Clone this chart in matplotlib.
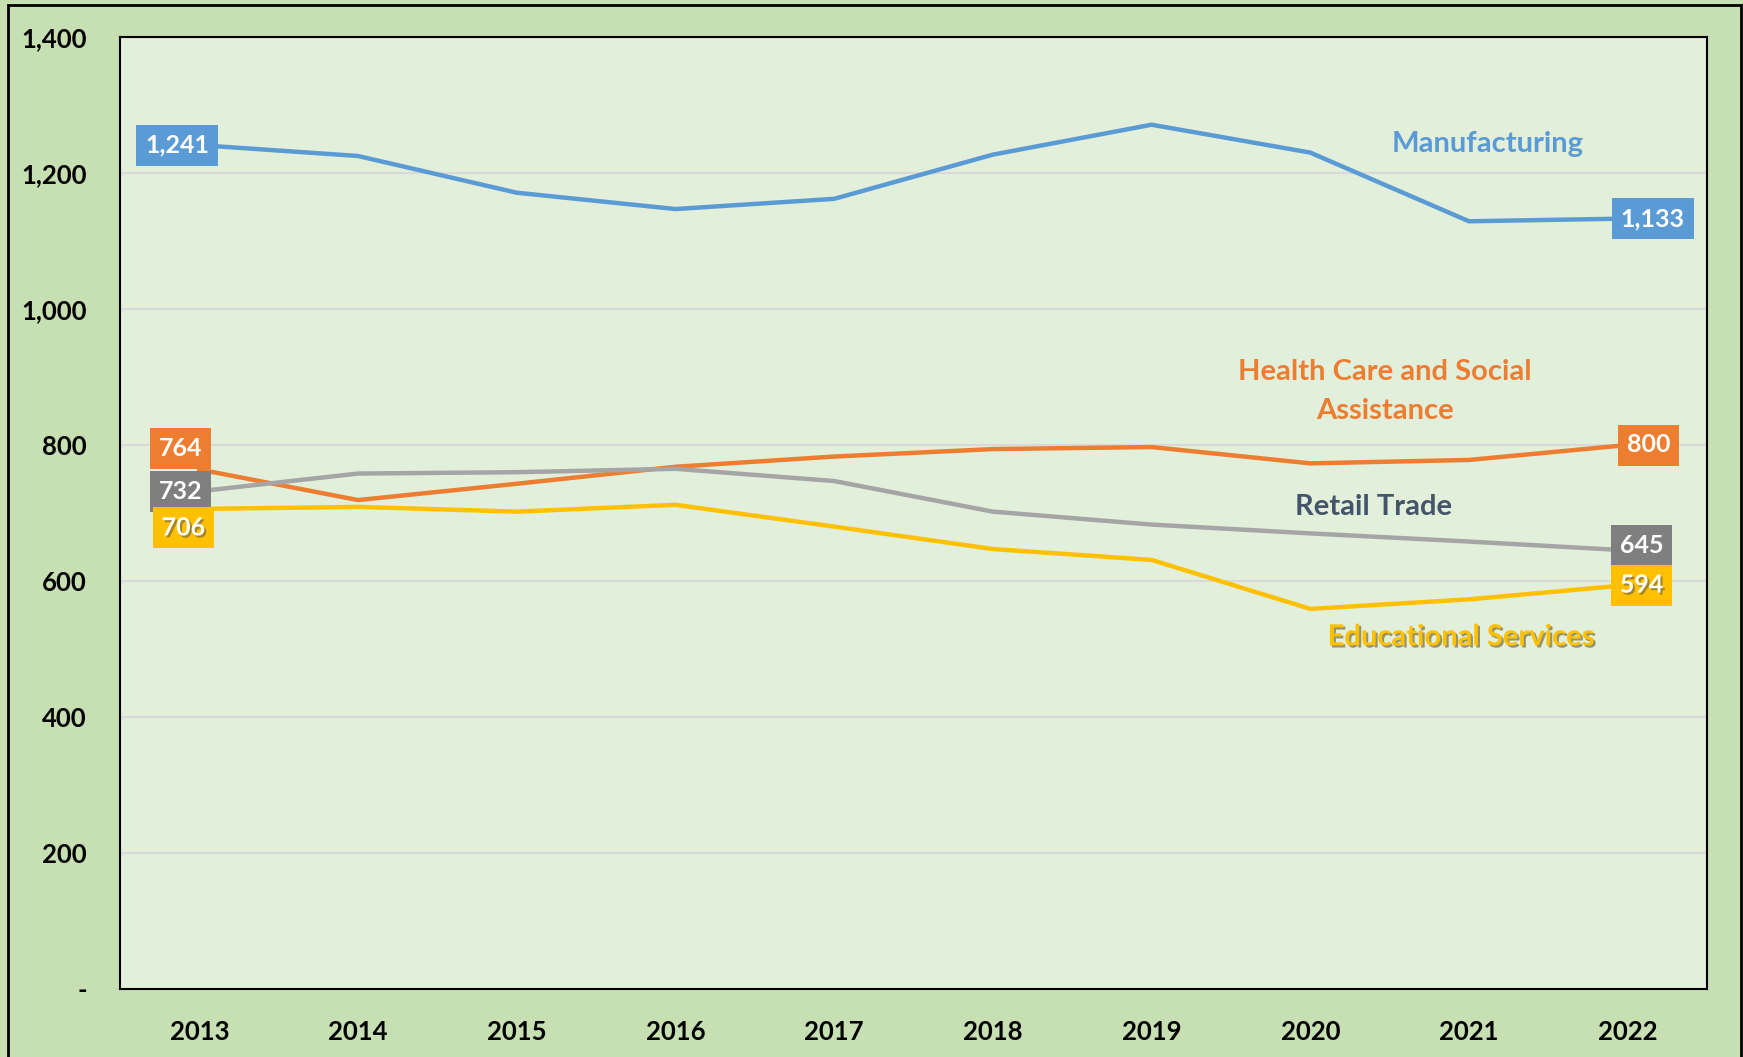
import matplotlib
matplotlib.use("Agg")
import matplotlib.pyplot as plt
import matplotlib.patheffects as pe
from matplotlib.patches import Rectangle
from matplotlib.ticker import FuncFormatter

years = ["2013", "2014", "2015", "2016", "2017", "2018", "2019", "2020", "2021", "2022"]
manufacturing = [1241, 1225, 1171, 1147, 1162, 1227, 1271, 1230, 1129, 1133]
health_care = [764, 719, 743, 768, 783, 794, 797, 773, 778, 800]
retail_trade = [732, 758, 760, 765, 747, 702, 683, 670, 658, 645]
education = [706, 709, 702, 712, 680, 647, 631, 559, 573, 594]

plt.rcParams['font.family'] = ['Lato', 'DejaVu Sans']
plt.rcParams['font.weight'] = 'bold'

W, H = 1743, 1057
fig = plt.figure(figsize=(W / 100, H / 100), dpi=100)
fig.patch.set_facecolor("#C6E0B4")
fig.add_artist(Rectangle((8 / W, -0.01), (1741 - 8) / W, 1.01 - 5 / H,
                         transform=fig.transFigure, fill=False,
                         edgecolor="black", linewidth=2))

ax = fig.add_axes([120 / W, (H - 989) / H, 1587 / W, 952 / H])
ax.set_facecolor("#E2EFDA")

x = list(range(len(years)))
series = [
    (manufacturing, "#5B9BD5", "#5B9BD5"),
    (health_care, "#ED7D31", "#ED7D31"),
    (retail_trade, "#A5A5A5", "#7F7F7F"),
    (education, "#FFC000", "#FFC000"),
]
for vals, c, _ in series:
    ax.plot(x, vals, color=c, linewidth=3.2, solid_joinstyle="miter", zorder=3)

# end labels (offsets in pixels)
offsets = [((-22, 0), (25, 0)),
           ((-19, 21), (21, 0)),
           ((-19, 0), (14, 5)),
           ((-16, -19), (14, 0))]
shadow = [pe.SimplePatchShadow(offset=(1.5, -1.5), alpha=0.5), pe.Normal()]
for (vals, _, boxc), (lo, ro) in zip(series, offsets):
    for idx, off in ((0, lo), (len(vals) - 1, ro)):
        t = ax.annotate(f"{vals[idx]:,}", (x[idx], vals[idx]), xytext=off,
                        textcoords="offset pixels", ha="center", va="center",
                        color="white", fontsize=18, fontweight="bold", zorder=5,
                        bbox=dict(boxstyle="square,pad=0.36", fc=boxc, ec="none"))
        if boxc == "#FFC000":
            t.set_path_effects(shadow)

ax.text(8.12, 1242, "Manufacturing", color="#5B9BD5", fontsize=21,
        fontweight="bold", ha="center", va="center")
ax.text(7.47, 879, "Health Care and Social\nAssistance", color="#ED7D31",
        fontsize=21, fontweight="bold", ha="center", va="center", linespacing=1.6)
ax.text(7.4, 709, "Retail Trade", color="#44546A", fontsize=21,
        fontweight="bold", ha="center", va="center")
ax.text(7.95, 517, "Educational Services", color="#FFC000", fontsize=21,
        fontweight="bold", ha="center", va="center", path_effects=shadow)

ax.set_xlim(-0.5, 9.5)
ax.set_ylim(0, 1400)
ax.set_yticks(range(0, 1401, 200))
ax.yaxis.set_major_formatter(FuncFormatter(lambda v, p: "-" if v == 0 else f"{int(v):,}"))
ax.set_xticks(x)
ax.set_xticklabels(years)
ax.tick_params(axis="both", length=0, labelsize=18.5)
ax.tick_params(axis="y", pad=24)
ax.tick_params(axis="x", pad=22)
ax.grid(axis="y", color="#D9D9D9", linewidth=1.5, zorder=0)
ax.set_axisbelow(True)
for s in ax.spines.values():
    s.set_color("black")
    s.set_linewidth(1.5)

fig.savefig("out.png", dpi=100, facecolor=fig.get_facecolor())
